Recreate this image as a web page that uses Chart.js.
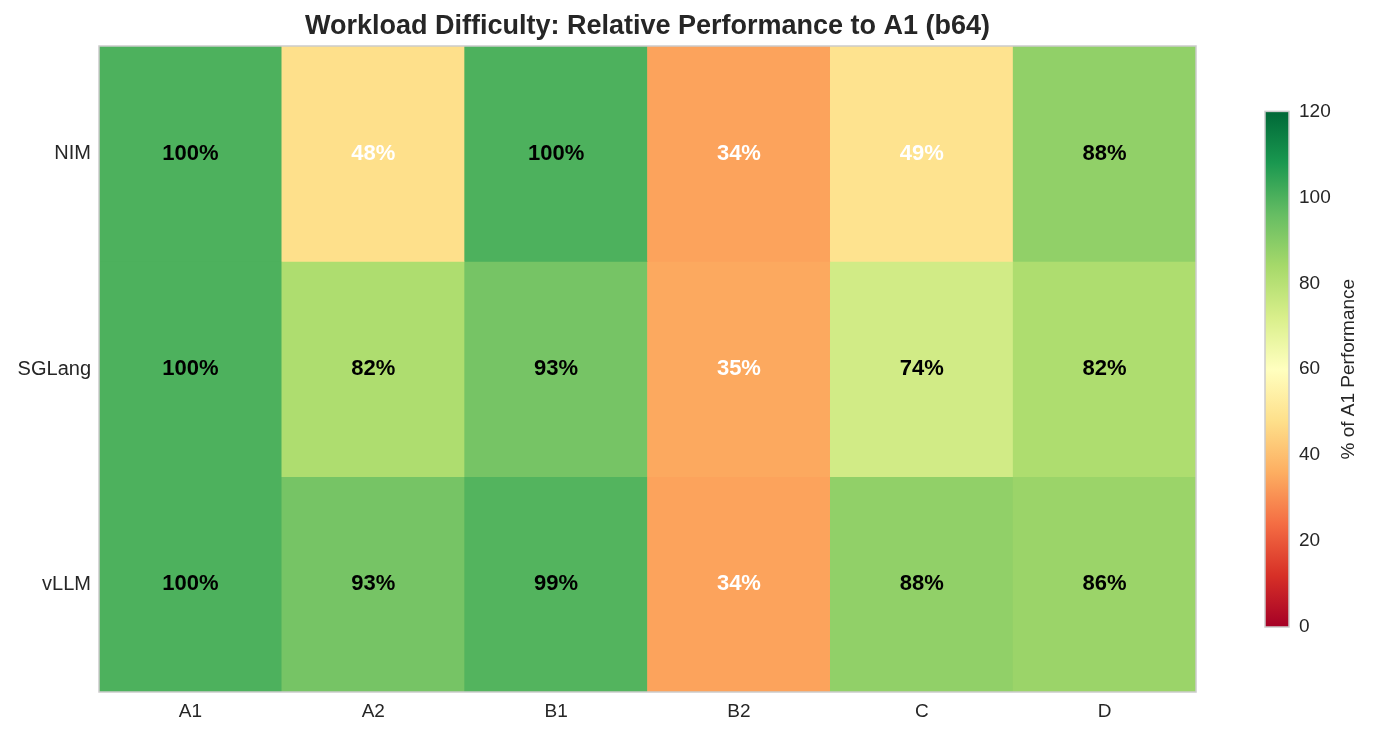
<!DOCTYPE html>
<html>
<head>
<meta charset="utf-8">
<script src="https://cdn.jsdelivr.net/npm/chart.js@4"></script>
<style>
    body { margin: 0; background: #ffffff; }
    #wrap { position: relative; width: 1374px; height: 735px; }
    #heatmap { position: absolute; left: 0; top: 0; }
    #colorbar { position: absolute; left: 1250px; top: 90px; }
</style>
</head>
<body>
<div id="wrap">
    <canvas id="heatmap" width="1374" height="735"></canvas>
    <canvas id="colorbar" width="124" height="560"></canvas>
</div>
<script>
const workloads = ["A1", "A2", "B1", "B2", "C", "D"];
const engines = ["NIM", "SGLang", "vLLM"];
const nimValues = [100, 48, 100, 34, 49, 88];
const sglangValues = [100, 82, 93, 35, 74, 82];
const vllmValues = [100, 93, 99, 34, 88, 86];
const colorbarTicks = [0, 20, 40, 60, 80, 100, 120];

const rowValues = [nimValues, sglangValues, vllmValues];
const vMin = colorbarTicks[0];
const vMax = colorbarTicks[colorbarTicks.length - 1];

const fontFamily = '"Liberation Sans", Arial, Helvetica, sans-serif';
const textColor = '#262626';

// RdYlGn colour map
const rdylgn = [
    [165, 0, 38], [215, 48, 39], [244, 109, 67], [253, 174, 97], [254, 224, 139],
    [255, 255, 191], [217, 239, 139], [166, 217, 106], [102, 189, 99], [26, 152, 80], [0, 104, 55]
];

function colorFor(v) {
    let t = (v - vMin) / (vMax - vMin);
    t = Math.max(0, Math.min(1, t)) * (rdylgn.length - 1);
    const i = Math.min(Math.floor(t), rdylgn.length - 2);
    const f = t - i;
    const a = rdylgn[i], b = rdylgn[i + 1];
    const c = a.map((x, k) => Math.round(x + (b[k] - x) * f));
    return `rgb(${c[0]}, ${c[1]}, ${c[2]})`;
}

const plotBorder = {
    id: 'plotBorder',
    afterDraw(chart) {
        const { ctx, chartArea } = chart;
        ctx.save();
        ctx.strokeStyle = '#cccccc';
        ctx.lineWidth = 1.5;
        ctx.strokeRect(chartArea.left, chartArea.top, chartArea.right - chartArea.left, chartArea.bottom - chartArea.top);
        ctx.restore();
    }
};

const cellLabels = {
    id: 'cellLabels',
    afterDatasetsDraw(chart) {
        const ctx = chart.ctx;
        ctx.save();
        ctx.font = 'bold 22px ' + fontFamily;
        ctx.textAlign = 'center';
        ctx.textBaseline = 'middle';
        chart.data.datasets.forEach((ds, di) => {
            const meta = chart.getDatasetMeta(di);
            meta.data.forEach((bar, i) => {
                const v = ds.values[i];
                const { x, y, base } = bar.getProps(['x', 'y', 'base'], true);
                ctx.fillStyle = v < 50 ? '#ffffff' : '#000000';
                ctx.fillText(Math.round(v) + '%', x, (y + base) / 2);
            });
        });
        ctx.restore();
    }
};

new Chart(document.getElementById('heatmap'), {
    type: 'bar',
    data: {
        labels: workloads,
        datasets: engines.map((name, r) => ({
            label: name,
            values: rowValues[r],
            data: rowValues[r].map(() => [r, r + 1]),
            backgroundColor: rowValues[r].map(colorFor),
            borderWidth: 0,
            barPercentage: 1,
            categoryPercentage: 1,
            grouped: false,
        })),
    },
    options: {
        responsive: false,
        animation: false,
        layout: { padding: { left: 0, right: 178, top: 0, bottom: 0 } },
        plugins: {
            legend: { display: false },
            tooltip: { enabled: false },
            title: {
                display: true,
                fullSize: false,
                text: 'Workload Difficulty: Relative Performance to A1 (b64)',
                color: textColor,
                font: { family: fontFamily, size: 27, weight: 'bold' },
                padding: { top: 10, bottom: 3.6 },
            },
        },
        scales: {
            x: {
                grid: { display: false, drawTicks: false },
                border: { display: false },
                ticks: { color: textColor, font: { family: fontFamily, size: 19 }, padding: 8 },
                afterFit(scale) { scale.height = 43; },
            },
            y: {
                type: 'linear',
                reverse: true,
                min: 0,
                max: engines.length,
                grid: { display: false, drawTicks: false },
                border: { display: false },
                afterBuildTicks(scale) {
                    scale.ticks = engines.map((_, i) => ({ value: i + 0.5 }));
                },
                ticks: {
                    color: textColor,
                    font: { family: fontFamily, size: 20 },
                    padding: 8,
                    callback: (value) => engines[Math.floor(value)],
                },
                afterFit(scale) { scale.width = 99; },
            },
        },
    },
    plugins: [plotBorder, cellLabels],
});

const colorbarTitle = {
    id: 'colorbarTitle',
    afterDraw(chart) {
        const { ctx, chartArea } = chart;
        ctx.save();
        ctx.translate(99, (chartArea.top + chartArea.bottom) / 2);
        ctx.rotate(-Math.PI / 2);
        ctx.font = '19px ' + fontFamily;
        ctx.fillStyle = textColor;
        ctx.textAlign = 'center';
        ctx.textBaseline = 'middle';
        ctx.fillText('% of A1 Performance', 0, 0);
        ctx.restore();
    }
};

new Chart(document.getElementById('colorbar'), {
    type: 'bar',
    data: {
        labels: [''],
        datasets: [{
            data: [[vMin, vMax]],
            backgroundColor(context) {
                const chart = context.chart;
                const { ctx, chartArea, scales } = chart;
                if (!chartArea) return null;
                const g = ctx.createLinearGradient(0, scales.y.getPixelForValue(vMin), 0, scales.y.getPixelForValue(vMax));
                rdylgn.forEach((c, i) => g.addColorStop(i / (rdylgn.length - 1), `rgb(${c[0]}, ${c[1]}, ${c[2]})`));
                return g;
            },
            borderWidth: 0,
            barPercentage: 1,
            categoryPercentage: 1,
        }],
    },
    options: {
        responsive: false,
        animation: false,
        layout: { padding: { left: 15, right: 0, top: 21, bottom: 23 } },
        plugins: {
            legend: { display: false },
            tooltip: { enabled: false },
        },
        scales: {
            x: { display: false },
            y: {
                position: 'right',
                min: vMin,
                max: vMax,
                grid: { display: false, drawTicks: false },
                border: { display: false },
                afterBuildTicks(scale) {
                    scale.ticks = colorbarTicks.map((v) => ({ value: v }));
                },
                ticks: { color: textColor, font: { family: fontFamily, size: 19 }, padding: 10 },
                afterFit(scale) { scale.width = 85; },
            },
        },
    },
    plugins: [plotBorder, colorbarTitle],
});
</script>
</body>
</html>
